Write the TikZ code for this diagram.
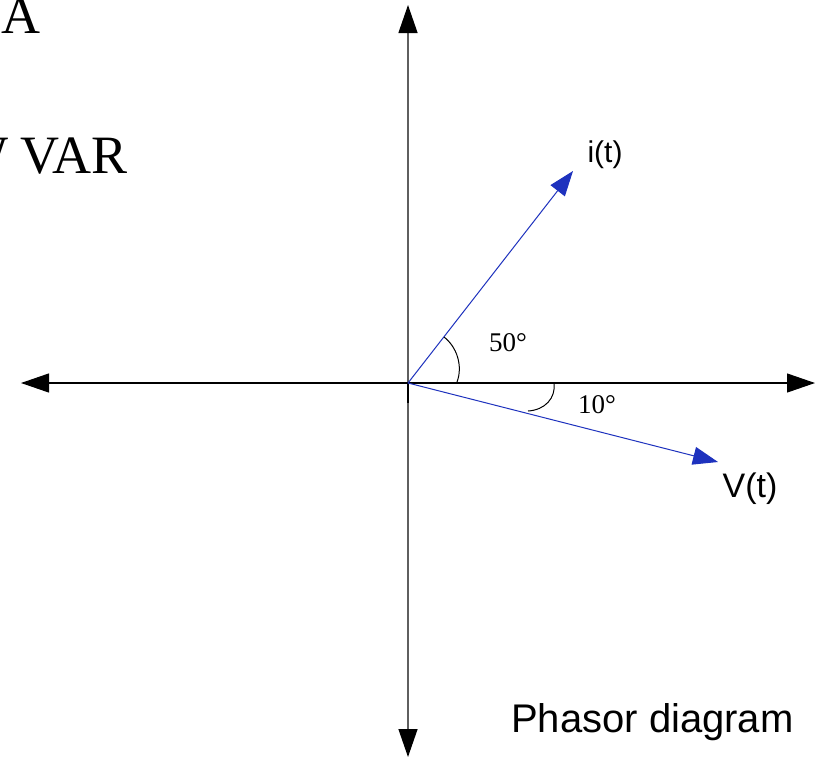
\documentclass[tikz,border=0pt]{standalone}
\usepackage{fontspec}
\setmainfont{Liberation Serif}
\newfontfamily\sansf{Liberation Sans}
\usetikzlibrary{arrows.meta}
\definecolor{vecblue}{RGB}{30,50,190}
\definecolor{axgray}{RGB}{95,95,95}
\tikzset{
  axtip/.tip={Triangle[length=28pt,width=19pt,black]},
  axisline/.style={line width=1.3pt, arrows={axtip-axtip}},
  vecline/.style={vecblue, line width=1pt, -{Triangle[length=25pt,width=18pt]}},
  anglearc/.style={black, line width=1pt},
  anglelabel/.style={inner sep=0pt, font=\fontsize{27}{30}\selectfont},
  sanslabel/.style={inner sep=0pt, font=\sansf},
  bigserif/.style={inner sep=0pt, font=\fontsize{54}{60}\selectfont}
}
\begin{document}
\begin{tikzpicture}[x=1pt,y=-1pt]
\useasboundingbox (0,0) rectangle (817,758);
\clip (0,0) rectangle (817,758);
\fill[white] (0,0) rectangle (817,758);
% axes
\coordinate (O) at (408,383);
\coordinate (axtop) at (408,5);
\coordinate (axbot) at (408,757);
\coordinate (axleft) at (21,383);
\coordinate (axright) at (815,383);
\coordinate (tick) at (408,403);
\draw[axisline, axgray] (axbot) -- (axtop);
\draw[axisline, black, line width=1.1pt] (axleft) -- (axright);
\draw[black, line width=1.4pt] (O) -- (tick);
% vectors
\coordinate (itip) at (573,171);
\coordinate (vtip) at (718,462);
\draw[vecline] (O) -- (itip);
\draw[vecline] (O) -- (vtip);
% angle arcs
\coordinate (a50s) at (457,382);
\coordinate (a50e) at (444,337);
\draw[anglearc] (a50s) .. controls (463,366) and (457,347) .. (a50e);
\coordinate (a10s) at (554,383);
\coordinate (a10e) at (528,411);
\draw[anglearc] (a10s) .. controls (556,398) and (545,410) .. (a10e);
% labels
\node[anglelabel] (l50) at (508,343) {50°};
\node[anglelabel] (l10) at (597,405) {10°};
\node[sanslabel, font=\sansf\fontsize{30}{34}\selectfont] (li) at (605,155) {i(t)};
\node[sanslabel, font=\sansf\fontsize{34}{38}\selectfont] (lv) at (750,489) {V(t)};
\node[sanslabel, font=\sansf\fontsize{40}{44}\selectfont, anchor=base west] (title) at (511,732) {Phasor diagram};
% cropped texts at top left
\node[bigserif, anchor=base west] (ta) at (1,33) {A};
\node[bigserif, anchor=base west] (tvar) at (20,173) {VAR};
\node[bigserif, anchor=base east] (tw) at (9,173) {W};
\end{tikzpicture}
\end{document}
